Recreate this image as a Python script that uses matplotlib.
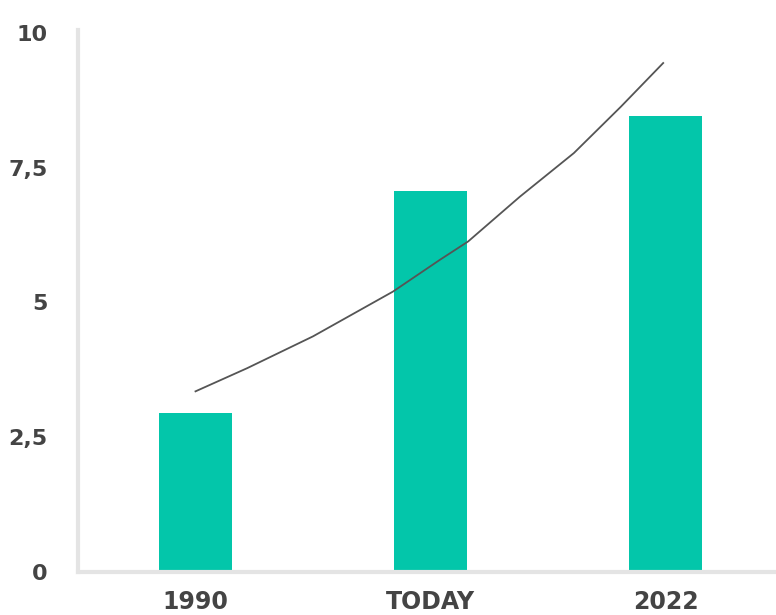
import matplotlib.pyplot as plt

categories = ["1990", "TODAY", "2022"]
values = [2.95, 7.06, 8.45]

# trend curve (x in category units)
curve_x = [0, 0.22, 0.50, 0.84, 1.04, 1.16, 1.38, 1.61, 1.81, 1.99]
curve_y = [3.35, 3.78, 4.37, 5.20, 5.79, 6.13, 6.96, 7.77, 8.63, 9.44]

y_ticks = [0, 2.5, 5, 7.5, 10]
y_labels = ["0", "2,5", "5", "7,5", "10"]

fig = plt.figure(figsize=(7.76, 6.15), dpi=100)
ax = fig.add_axes([0.1005, 0.07, 0.8995, 0.881])

x = range(len(categories))
ax.bar(x, values, width=0.31, color="#03C6AA", zorder=2)
ax.plot(curve_x, curve_y, color="#555555", linewidth=1.3, zorder=3,
        solid_joinstyle="round")

ax.set_xlim(-0.5, 2.47)
ax.set_ylim(0, 10.05)
ax.set_xticks(list(x))
ax.set_xticklabels(categories)
ax.set_yticks(y_ticks)
ax.set_yticklabels(y_labels)

for s in ["top", "right"]:
    ax.spines[s].set_visible(False)
for s in ["left", "bottom"]:
    ax.spines[s].set_color("#E4E4E4")
    ax.spines[s].set_linewidth(3)

ax.tick_params(axis="x", length=0, pad=13, labelsize=17, labelcolor="#444444")
ax.tick_params(axis="y", length=0, pad=22, labelsize=16, labelcolor="#444444")
for lbl in ax.get_xticklabels() + ax.get_yticklabels():
    lbl.set_fontweight("bold")

fig.savefig("out.png", dpi=100)
plt.close(fig)
